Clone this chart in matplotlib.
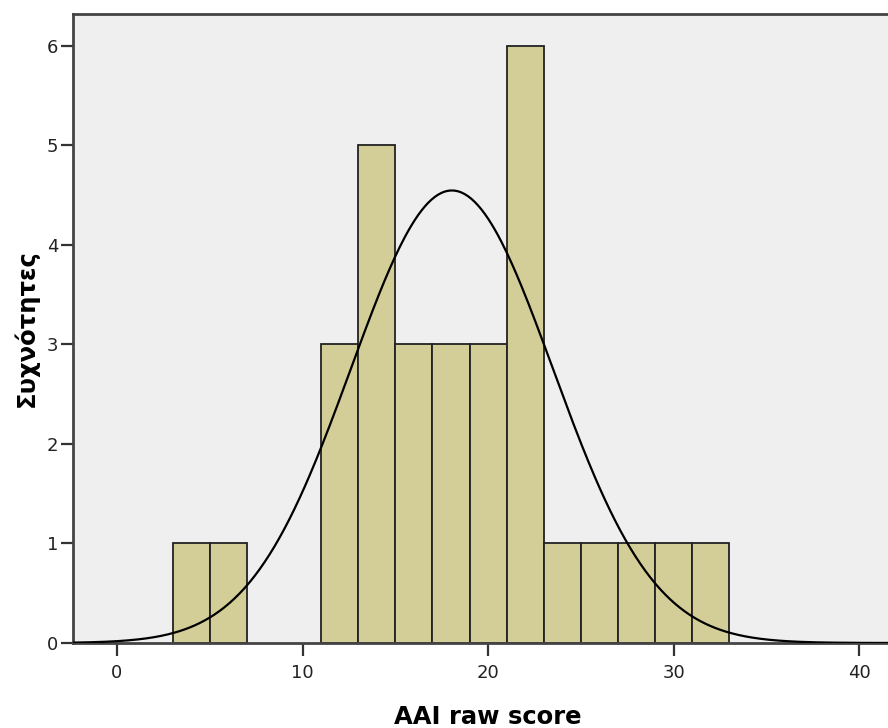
import numpy as np
import matplotlib
matplotlib.use("Agg")
import matplotlib.pyplot as plt

# --- Histogram data (bin width 2) ---
bin_edges = [3, 5, 7, 9, 11, 13, 15, 17, 19, 21, 23, 25, 27, 29, 31, 33]
counts = [1, 1, 0, 0, 3, 5, 3, 3, 3, 6, 1, 1, 1, 1, 1]

# Normal curve parameters (as drawn by SPSS)
curve_mean = 18.05
curve_sd = 5.44
n_total = 31
bin_width = 2

x_ticks = [0, 10, 20, 30, 40]
y_ticks = [0, 1, 2, 3, 4, 5, 6]

fig = plt.figure(figsize=(8.88, 7.28), dpi=100)
ax = fig.add_axes([73 / 888, 85 / 728, (900 - 73) / 888, (643 - 14) / 728])
ax.set_facecolor("#efefef")

lefts = np.array(bin_edges[:-1])
for left, c in zip(lefts, counts):
    if c > 0:
        ax.bar(left, c, width=bin_width, align="edge", color="#d3ce97",
               edgecolor="#222222", linewidth=1.3, zorder=2)

xs = np.linspace(-2.4, 42.5, 500)
ys = n_total * bin_width / (curve_sd * np.sqrt(2 * np.pi)) * np.exp(-0.5 * ((xs - curve_mean) / curve_sd) ** 2)
ax.plot(xs, ys, color="black", linewidth=1.6, zorder=3)

ax.set_xlim(-2.37, 42.2)
ax.set_ylim(0, 6.32)
ax.set_xticks(x_ticks)
ax.set_yticks(y_ticks)
ax.tick_params(axis="both", labelsize=13, length=9, width=1.6, color="#333333",
               labelcolor="#222222")
ax.tick_params(axis="x", pad=6)
ax.tick_params(axis="y", pad=1.5)
for s in ax.spines.values():
    s.set_linewidth(2)
    s.set_color("#444444")

fig.text(488 / 888, 1 - 717 / 728, "AAI raw score", fontsize=17.5,
         fontweight="bold", ha="center", va="center")
fig.text(26 / 888, 1 - 328 / 728, "Συχνότητες", fontsize=17.5,
         fontweight="bold", ha="center", va="center", rotation=90)

fig.savefig("out.png", dpi=100)
